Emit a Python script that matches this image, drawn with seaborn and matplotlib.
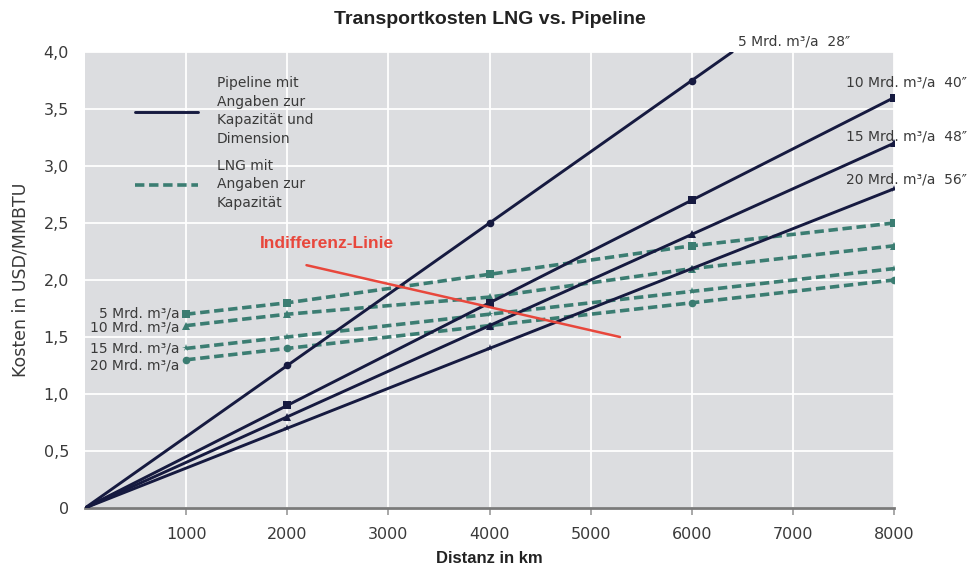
import matplotlib
matplotlib.use("Agg")
import matplotlib.pyplot as plt
from matplotlib.lines import Line2D
import seaborn as sns

# ---- data -------------------------------------------------------------
pipe_dist = [0, 2000, 4000, 6000, 8000]
pipe_5_dist = [0, 2000, 4000, 6000, 6400]
pipe_5 = [0, 1.25, 2.5, 3.75, 4.0]        # 5 Mrd. m³/a, 28"
pipe_10 = [0, 0.9, 1.8, 2.7, 3.6]         # 10 Mrd. m³/a, 40"
pipe_15 = [0, 0.8, 1.6, 2.4, 3.2]         # 15 Mrd. m³/a, 48"
pipe_20 = [0, 0.7, 1.4, 2.1, 2.8]         # 20 Mrd. m³/a, 56"

lng_dist = [1000, 2000, 4000, 6000, 8000]
lng_5 = [1.7, 1.8, 2.05, 2.3, 2.5]
lng_10 = [1.6, 1.7, 1.85, 2.1, 2.3]
lng_15 = [1.4, 1.5, 1.7, 1.9, 2.1]
lng_20 = [1.3, 1.4, 1.6, 1.8, 2.0]

indiff_dist = [2190, 5290]
indiff_cost = [2.13, 1.50]

pipe_labels = ["5 Mrd. m\u00b3/a  28\u2033", "10 Mrd. m\u00b3/a  40\u2033",
               "15 Mrd. m\u00b3/a  48\u2033", "20 Mrd. m\u00b3/a  56\u2033"]
lng_labels = ["5 Mrd. m\u00b3/a", "10 Mrd. m\u00b3/a",
              "15 Mrd. m\u00b3/a", "20 Mrd. m\u00b3/a"]

x_ticks = [1000, 2000, 3000, 4000, 5000, 6000, 7000, 8000]
y_ticks = [0, 0.5, 1.0, 1.5, 2.0, 2.5, 3.0, 3.5, 4.0]
y_ticklabels = ["0", "0,5", "1,0", "1,5", "2,0", "2,5", "3,0", "3,5", "4,0"]

# ---- style ------------------------------------------------------------
NAVY = "#161a40"
TEAL = "#3b7d72"
RED = "#e8473c"
TXT = "#3a3a3a"

sns.set_style("whitegrid", {
    "axes.facecolor": "#dcdde0",
    "grid.color": "white",
    "axes.edgecolor": "#7a7a7a",
})
plt.rcParams["font.family"] = ["DejaVu Sans"]

fig = plt.figure(figsize=(9.74, 5.64), dpi=100)
ax = fig.add_axes([0.0873, 0.0993, 0.8306, 0.8085])

# LNG lines (dashed)
lng_series = [(lng_5, "s"), (lng_10, "^"), (lng_15, "*"), (lng_20, "o")]
for vals, mk in lng_series:
    sns.lineplot(x=lng_dist, y=vals, ax=ax, color=TEAL, lw=2.6,
                 linestyle=(0, (2.6, 1.3)), marker=mk, markersize=5.5,
                 markeredgewidth=0, zorder=3)

# pipeline lines (solid)
pipe_series = [(pipe_5_dist, pipe_5, "o", slice(1, 4)),
               (pipe_dist, pipe_10, "s", slice(1, None)),
               (pipe_dist, pipe_15, "^", slice(1, None)),
               (pipe_dist, pipe_20, "*", slice(1, None))]
for xs, vals, mk, every in pipe_series:
    sns.lineplot(x=xs, y=vals, ax=ax, color=NAVY, lw=2.1, marker=mk,
                 markersize=5.5, markeredgewidth=0, markevery=every, zorder=4)

# indifference line
sns.lineplot(x=indiff_dist, y=indiff_cost, ax=ax, color=RED, lw=1.8, zorder=5)
ax.text(1730, 2.32, "Indifferenz-Linie", color=RED, fontsize=12.5,
        fontweight="bold", family="Liberation Sans", va="center", ha="left",
        zorder=6)

# labels at pipeline ends
pipe_ends = [(pipe_5_dist[-1], pipe_5[-1], (6, 11)),
             (pipe_dist[-1], pipe_10[-1], (-48, 15)),
             (pipe_dist[-1], pipe_15[-1], (-48, 7)),
             (pipe_dist[-1], pipe_20[-1], (-48, 9))]
for (xe, ye, off), lab in zip(pipe_ends, pipe_labels):
    ax.annotate(lab, (xe, ye), xytext=off, textcoords="offset pixels",
                fontsize=10, color=TXT, ha="left", va="center",
                annotation_clip=False)

# labels at LNG starts
lng_offsets = [(-7, 1), (-7, -2), (-7, 0), (-7, -6)]
for vals, off, lab in zip([lng_5, lng_10, lng_15, lng_20], lng_offsets, lng_labels):
    ax.annotate(lab, (lng_dist[0], vals[0]), xytext=off,
                textcoords="offset pixels", fontsize=10, color=TXT,
                ha="right", va="center")

# legend
handles = [Line2D([], [], color=NAVY, lw=2.1),
           Line2D([], [], color=TEAL, lw=2.6, linestyle=(0, (2.6, 1.3)))]
leg = ax.legend(handles,
                ["Pipeline mit\nAngaben zur\nKapazit\u00e4t und\nDimension",
                 "LNG mit\nAngaben zur\nKapazit\u00e4t"],
                loc="upper left", bbox_to_anchor=(0.0618, 0.947),
                frameon=False, fontsize=10, handlelength=4.5,
                handletextpad=1.4, labelspacing=0.9, borderpad=0,
                borderaxespad=0)
for t in leg.get_texts():
    t.set_color(TXT)
    t.set_linespacing(1.42)

# axes
ax.set_xlim(0, 8000)
ax.set_ylim(0, 4.0)
ax.set_xticks(x_ticks)
ax.set_xticklabels([str(v) for v in x_ticks])
ax.set_yticks(y_ticks)
ax.set_yticklabels(y_ticklabels)
ax.grid(True, color="white", lw=1.3)
ax.set_axisbelow(True)
for side in ["top", "right", "left"]:
    ax.spines[side].set_visible(False)
ax.spines["bottom"].set_color("#7a7a7a")
ax.spines["bottom"].set_linewidth(2.0)
ax.tick_params(axis="x", bottom=True, length=5, width=1.2, color="#9a9a9a",
               pad=9, labelsize=11.5, labelcolor=TXT)
ax.tick_params(axis="y", left=False, pad=8, labelsize=11.5, labelcolor=TXT)

ax.set_xlabel("Distanz in km", family="Liberation Sans", fontweight="bold",
              fontsize=12, color="#222222", labelpad=6)
ax.set_ylabel("Kosten in USD/MMBTU", fontsize=12.5, color=TXT, labelpad=10)
ax.set_title("Transportkosten LNG vs. Pipeline", family="Liberation Sans",
             fontweight="bold", fontsize=14, color="#222222", pad=20)

fig.savefig("out.png", dpi=100)
